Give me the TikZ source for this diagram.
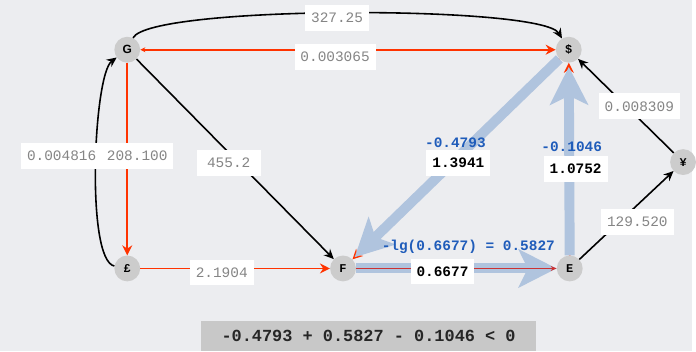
\documentclass[tikz,border=0pt]{standalone}
\usepackage{fontspec}
\setmainfont{Liberation Sans}
\newfontfamily\monof{Liberation Mono}
\usetikzlibrary{arrows.meta}
\definecolor{bg}{HTML}{ECEDF0}
\definecolor{nodegrey}{HTML}{CCCCCC}
\definecolor{redline}{HTML}{FF3300}
\definecolor{darkred}{HTML}{CC3333}
\definecolor{lblgrey}{HTML}{858585}
\definecolor{hlblue}{HTML}{B0C4DE}
\definecolor{txtblue}{HTML}{1F5CBA}
\definecolor{sumgrey}{HTML}{C8C8C8}
\begin{document}
\begin{tikzpicture}[x=1pt,y=-1pt,
  cur/.style={circle, fill=nodegrey, minimum size=26pt, inner sep=0pt, font=\monof\bfseries\fontsize{12}{13}\selectfont},
  cursans/.style={cur, font=\bfseries\fontsize{12}{13}\selectfont},
  lbl/.style={fill=white, minimum width=64pt, minimum height=26pt, inner xsep=6pt, inner ysep=0pt, text=lblgrey, font=\monof\fontsize{14.5}{16}\selectfont},
  lblb/.style={lbl, text=black, font=\monof\bfseries\fontsize{14.5}{16}\selectfont},
  bluetxt/.style={text=txtblue, inner sep=0pt, font=\monof\bfseries\fontsize{14.5}{16}\selectfont},
  blk/.style={draw=black, line width=1.6pt, -{Stealth[length=10pt,width=9pt]}},
  redarrow/.style={draw=redline, line width=1.8pt, -{Stealth[length=10pt,width=10pt]}},
  hl/.style={draw=hlblue, line width=10pt, -{Stealth[length=38pt,width=38pt,inset=9pt]}},
]
\fill[bg] (0,0) rectangle (696,353);
% nodes
\node[cursans] (G) at (128,50) {G};
\node[cursans] (D) at (572,50) {\$};
\node[cur] (P) at (128,270) {£};
\node[cur] (F) at (345,270) {F};
\node[cur] (E) at (573,270) {E};
\node[cur] (Y) at (687,163) {¥};
% black edges
\draw[blk] (G) .. controls (150,5) and (545,5) .. (D);
\draw[blk] (P) .. controls (86,262) and (94,75) .. (G);
\draw[blk] (G) -- (F);
\draw[blk] (Y) -- (D);
\draw[blk] (E) -- (Y);
% red edges
\draw[draw=redline, line width=1.8pt, {Stealth[length=5pt,width=5pt]}-{Stealth[length=10pt,width=10pt]}] (G) -- (D);
\draw[redarrow] (G) -- (P);
\draw[redarrow] (P) -- (F);
\draw[redarrow] (D) -- (F);
\draw[redarrow] (E) -- (D);
% highlighted cycle
\draw[hl, shorten >=3pt] (D) -- (F);
\draw[hl, shorten >=4pt] (E) -- (D);
\draw[hl] (F) -- (E);
\draw[draw=darkred, line width=1.8pt, -{Stealth[length=6pt,width=5pt]}] (F) -- (E);
% labels
\node[lbl] (l1) at (339,18) {327.25};
\node[lbl] (l2) at (337,57) {0.003065};
\node[lbl] (l3) at (62,157) {0.004816};
\node[lbl] (l4) at (138,157) {208.100};
\node[lbl] (l5) at (230,164) {455.2};
\node[lbl] (l6) at (223,274) {2.1904};
\node[lbl] (l7) at (643,107) {0.008309};
\node[lbl] (l8) at (641,223) {129.520};
\node[lblb] (l9) at (461,164) {1.3941};
\node[lblb] (l10) at (579,170) {1.0752};
\node[lblb] (l11) at (445,273) {0.6677};
\node[bluetxt] (b1) at (458,144) {-0.4793};
\node[bluetxt] (b2) at (575,148) {-0.1046};
\node[bluetxt] (b3) at (471,248) {-lg(0.6677) = 0.5827};
% summary
\node[fill=sumgrey, minimum width=337pt, minimum height=30pt, inner sep=0pt, anchor=north west, text=black!85, font=\monof\bfseries\fontsize{17}{19}\selectfont] (sum) at (202,323) {-0.4793 + 0.5827 - 0.1046 < 0};
\end{tikzpicture}
\end{document}
